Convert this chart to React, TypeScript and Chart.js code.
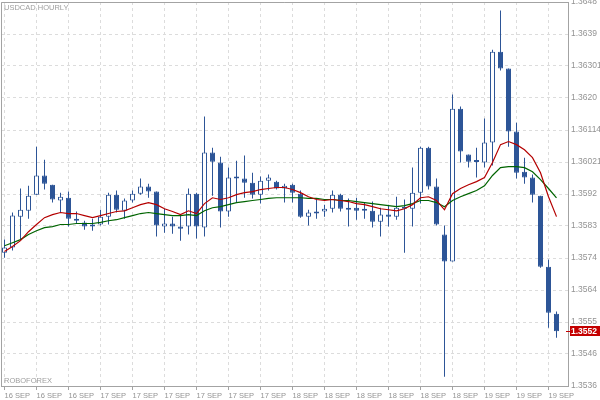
import React, { useEffect, useRef } from "react";
import { Chart, registerables } from "chart.js";

Chart.register(...registerables);

// USDCAD hourly candles (open / high / low / close)
const opens = [
  1.35749, 1.35764, 1.35854, 1.35871, 1.35918, 1.35974, 1.35947, 1.35901, 1.35909, 1.35848,
  1.35837, 1.35825, 1.35831, 1.35854, 1.35918, 1.35871, 1.35901, 1.35921, 1.35942, 1.35927,
  1.35825, 1.35834, 1.35825, 1.35825, 1.35921, 1.35822, 1.36041, 1.36012, 1.35869, 1.35965,
  1.35965, 1.35953, 1.35918, 1.35959, 1.35956, 1.35936, 1.35947, 1.35921, 1.35854, 1.35863,
  1.35869, 1.35877, 1.35918, 1.35874, 1.35880, 1.35874, 1.35871, 1.35839, 1.35860, 1.35854,
  1.35883, 1.35877, 1.35924, 1.36055, 1.35942, 1.35802, 1.35723, 1.36169, 1.36035, 1.36013,
  1.36012, 1.36070, 1.36335, 1.36286, 1.36102, 1.35985, 1.35968, 1.35915, 1.35708, 1.35571,
];
const highs = [
  1.35787, 1.35866, 1.35936, 1.35944, 1.36058, 1.36020, 1.35947, 1.35924, 1.35927, 1.35869,
  1.35842, 1.35848, 1.35874, 1.35924, 1.35930, 1.35907, 1.35930, 1.35965, 1.35950, 1.35927,
  1.35877, 1.35854, 1.35857, 1.35936, 1.35924, 1.36146, 1.36055, 1.36029, 1.35997, 1.36017,
  1.36032, 1.35982, 1.35971, 1.35977, 1.35959, 1.35950, 1.35950, 1.35930, 1.35874, 1.35904,
  1.35889, 1.35930, 1.35921, 1.35907, 1.35909, 1.35895, 1.35898, 1.35880, 1.35889, 1.35912,
  1.35904, 1.35997, 1.36058, 1.36058, 1.35965, 1.35828, 1.36210, 1.36175, 1.36035, 1.36055,
  1.36140, 1.36341, 1.36455, 1.36286, 1.36128, 1.36026, 1.35977, 1.35915, 1.35729, 1.35577,
];
const lows = [
  1.35734, 1.35755, 1.35787, 1.35848, 1.35918, 1.35933, 1.35895, 1.35866, 1.35825, 1.35834,
  1.35816, 1.35813, 1.35828, 1.35831, 1.35866, 1.35848, 1.35895, 1.35918, 1.35909, 1.35796,
  1.35807, 1.35804, 1.35784, 1.35802, 1.35790, 1.35796, 1.35915, 1.35822, 1.35854, 1.35895,
  1.35909, 1.35907, 1.35892, 1.35930, 1.35933, 1.35895, 1.35895, 1.35851, 1.35828, 1.35848,
  1.35854, 1.35866, 1.35869, 1.35825, 1.35845, 1.35848, 1.35822, 1.35796, 1.35825, 1.35845,
  1.35749, 1.35825, 1.35892, 1.35933, 1.35828, 1.35387, 1.35723, 1.36012, 1.35997, 1.35968,
  1.35997, 1.36003, 1.36280, 1.36058, 1.35965, 1.35950, 1.35895, 1.35705, 1.35530, 1.35501,
];
const closes = [
  1.35764, 1.35857, 1.35874, 1.35915, 1.35974, 1.35950, 1.35904, 1.35912, 1.35848, 1.35842,
  1.35825, 1.35831, 1.35854, 1.35918, 1.35874, 1.35901, 1.35921, 1.35942, 1.35927, 1.35828,
  1.35834, 1.35825, 1.35819, 1.35921, 1.35825, 1.36041, 1.36014, 1.35869, 1.35968, 1.35968,
  1.35953, 1.35918, 1.35959, 1.35968, 1.35936, 1.35944, 1.35924, 1.35854, 1.35866, 1.35869,
  1.35877, 1.35918, 1.35877, 1.35880, 1.35871, 1.35871, 1.35839, 1.35860, 1.35854, 1.35880,
  1.35877, 1.35924, 1.36055, 1.35942, 1.35831, 1.35723, 1.36169, 1.36044, 1.36014, 1.36014,
  1.36070, 1.36335, 1.36286, 1.36102, 1.35982, 1.35968, 1.35918, 1.35708, 1.35574, 1.35520,
];

// Moving averages (red = fast, green = slow)
const maFast = [
  1.35752, 1.35767, 1.35784, 1.35810, 1.35831, 1.35851, 1.35860, 1.35866, 1.35863, 1.35863,
  1.35857, 1.35851, 1.35857, 1.35863, 1.35869, 1.35871, 1.35880, 1.35889, 1.35895, 1.35889,
  1.35877, 1.35869, 1.35860, 1.35871, 1.35863, 1.35892, 1.35909, 1.35904, 1.35909, 1.35918,
  1.35924, 1.35927, 1.35933, 1.35936, 1.35939, 1.35939, 1.35933, 1.35924, 1.35912, 1.35904,
  1.35901, 1.35904, 1.35901, 1.35898, 1.35892, 1.35889, 1.35883, 1.35877, 1.35874, 1.35871,
  1.35877, 1.35889, 1.35909, 1.35912, 1.35901, 1.35874, 1.35921, 1.35936, 1.35947, 1.35956,
  1.35968, 1.36012, 1.36064, 1.36073, 1.36064, 1.36049, 1.36026, 1.35982, 1.35912, 1.35854,
];
const maSlow = [
  1.35769, 1.35778, 1.35787, 1.35802, 1.35813, 1.35822, 1.35825, 1.35831, 1.35831, 1.35834,
  1.35834, 1.35834, 1.35837, 1.35842, 1.35845, 1.35851, 1.35857, 1.35863, 1.35866, 1.35863,
  1.35860, 1.35857, 1.35857, 1.35860, 1.35857, 1.35871, 1.35880, 1.35883, 1.35889, 1.35895,
  1.35898, 1.35901, 1.35904, 1.35907, 1.35909, 1.35909, 1.35909, 1.35909, 1.35907, 1.35907,
  1.35904, 1.35904, 1.35901, 1.35901, 1.35898, 1.35895, 1.35892, 1.35889, 1.35886, 1.35883,
  1.35886, 1.35892, 1.35901, 1.35901, 1.35895, 1.35883, 1.35901, 1.35912, 1.35921, 1.35930,
  1.35944, 1.35974, 1.35997, 1.36000, 1.36000, 1.35997, 1.35985, 1.35962, 1.35936, 1.35909,
];

const xTickIndex = [0, 4, 8, 12, 16, 20, 24, 28, 32, 36, 40, 44, 48, 52, 56, 60, 64, 68];
const xTickLabels = [
  "16 SEP", "16 SEP", "16 SEP", "17 SEP", "17 SEP", "17 SEP", "17 SEP", "17 SEP", "17 SEP",
  "18 SEP", "18 SEP", "18 SEP", "18 SEP", "18 SEP", "18 SEP", "19 SEP", "19 SEP", "19 SEP",
];
const yMin = 1.3536;
const yMax = 1.3648;
const yTickLabels = [
  "1.3536", "1.3546", "1.3555", "1.3564", "1.3574", "1.3583", "1.3592",
  "1.36021", "1.36114", "1.3620", "1.36301", "1.3639", "1.3648",
];

const BLUE = "#2d5597";
const AXIS = "#a3a3a3";
const GRID = "#dcdcdc";
const LABEL = "#939393";
const FONT = "Liberation Sans";

export default function App() {
  const ref = useRef<HTMLCanvasElement>(null);

  useEffect(() => {
    const canvas = ref.current;
    if (!canvas) return;
    const idx = closes.map((_, i) => i);
    const bodies = idx.map((i) => ({ x: i, y: [opens[i], closes[i]] }));
    const wicks = idx.map((i) => ({ x: i, y: [lows[i], highs[i]] }));
    const bodyFill = idx.map((i) => (closes[i] >= opens[i] ? "#ffffff" : BLUE));

    const overlay = {
      id: "overlay",
      afterDraw(chart: any) {
        const { ctx, chartArea } = chart;
        const ys = chart.scales.y;
        ctx.save();
        ctx.strokeStyle = AXIS;
        ctx.lineWidth = 1;
        ctx.beginPath();
        ctx.moveTo(chartArea.left + 0.5, chartArea.bottom);
        ctx.lineTo(chartArea.left + 0.5, chartArea.top + 0.5);
        ctx.lineTo(chartArea.right, chartArea.top + 0.5);
        ctx.stroke();
        ctx.fillStyle = "#9e9e9e";
        ctx.font = `7.5px "${FONT}"`;
        ctx.textBaseline = "top";
        ctx.textAlign = "left";
        ctx.fillText("USDCAD HOURLY", chartArea.left + 3, chartArea.top + 2);
        ctx.textBaseline = "bottom";
        ctx.fillText("ROBOFOREX", chartArea.left + 3, chartArea.bottom - 1);
        const last = closes[closes.length - 1];
        const py = Math.round(ys.getPixelForValue(last));
        ctx.strokeStyle = "#c40000";
        ctx.beginPath();
        ctx.moveTo(chartArea.right - 2, py + 0.5);
        ctx.lineTo(chartArea.right + 2, py + 0.5);
        ctx.stroke();
        ctx.fillStyle = "#c40000";
        ctx.fillRect(chartArea.right + 2, py - 5, 30, 10);
        ctx.fillStyle = "#ffffff";
        ctx.font = `bold 8.5px "${FONT}"`;
        ctx.textBaseline = "middle";
        ctx.fillText(last.toFixed(4), chartArea.right + 3, py + 0.5);
        ctx.restore();
      },
    };

    const chart = new Chart(canvas, {
      type: "bar",
      data: {
        datasets: [
          {
            type: "line",
            data: idx.map((i) => ({ x: i, y: maFast[i] })),
            borderColor: "#b40000",
            borderWidth: 1.2,
            pointRadius: 0,
            tension: 0,
            fill: false,
            order: 0,
          } as any,
          {
            type: "line",
            data: idx.map((i) => ({ x: i, y: maSlow[i] })),
            borderColor: "#006400",
            borderWidth: 1.2,
            pointRadius: 0,
            tension: 0,
            fill: false,
            order: 0,
          } as any,
          {
            type: "bar",
            data: bodies as any,
            backgroundColor: bodyFill,
            borderColor: BLUE,
            borderWidth: 1,
            borderSkipped: false,
            barThickness: 5,
            minBarLength: 2,
            grouped: false,
            inflateAmount: 0,
            order: 1,
          } as any,
          {
            type: "bar",
            data: wicks as any,
            backgroundColor: BLUE,
            borderWidth: 0,
            barThickness: 1,
            grouped: false,
            inflateAmount: 0,
            order: 2,
          } as any,
        ],
      },
      options: {
        responsive: false,
        animation: false,
        devicePixelRatio: 1,
        layout: { padding: { left: 1, top: 2, right: 0, bottom: 0 } },
        plugins: { legend: { display: false }, tooltip: { enabled: false } },
        events: [],
        scales: {
          x: {
            type: "linear",
            position: "bottom",
            min: -0.4375,
            max: 70.4375,
            offset: false,
            afterFit: (s: any) => {
              s.height = 14;
              s.paddingLeft = 0;
              s.paddingRight = 0;
            },
            afterBuildTicks: (s: any) => {
              s.ticks = xTickIndex.map((v) => ({ value: v }));
            },
            ticks: {
              autoSkip: false,
              maxRotation: 0,
              minRotation: 0,
              align: "start",
              padding: 1,
              color: LABEL,
              font: { family: FONT, size: 7.5 },
              callback: (_v: any, i: number) => xTickLabels[i],
            },
            grid: {
              offset: false,
              color: GRID,
              lineWidth: 1,
              drawTicks: true,
              tickLength: 4,
              tickColor: AXIS,
              tickBorderDash: [],
            },
            border: { display: true, color: AXIS, width: 1, dash: [3, 3] },
          } as any,
          y: {
            type: "linear",
            position: "right",
            min: yMin,
            max: yMax,
            afterFit: (s: any) => {
              s.width = 32;
              s.paddingTop = 0;
              s.paddingBottom = 0;
            },
            afterBuildTicks: (s: any) => {
              s.ticks = yTickLabels.map((_, i) => ({
                value: yMin + (i * (yMax - yMin)) / (yTickLabels.length - 1),
              }));
            },
            ticks: {
              padding: 3,
              color: LABEL,
              font: { family: FONT, size: 8.5 },
              callback: (_v: any, i: number) => yTickLabels[i],
            },
            grid: { color: GRID, lineWidth: 1, drawTicks: false },
            border: { display: true, color: AXIS, width: 1, dash: [3, 3] },
          } as any,
        },
      },
      plugins: [overlay],
    });
    return () => chart.destroy();
  }, []);

  return (
    <div style={{ position: "fixed", left: 0, top: 0, width: 600, height: 400, background: "#ffffff" }}>
      <canvas ref={ref} width={600} height={400} style={{ display: "block" }} />
    </div>
  );
}
